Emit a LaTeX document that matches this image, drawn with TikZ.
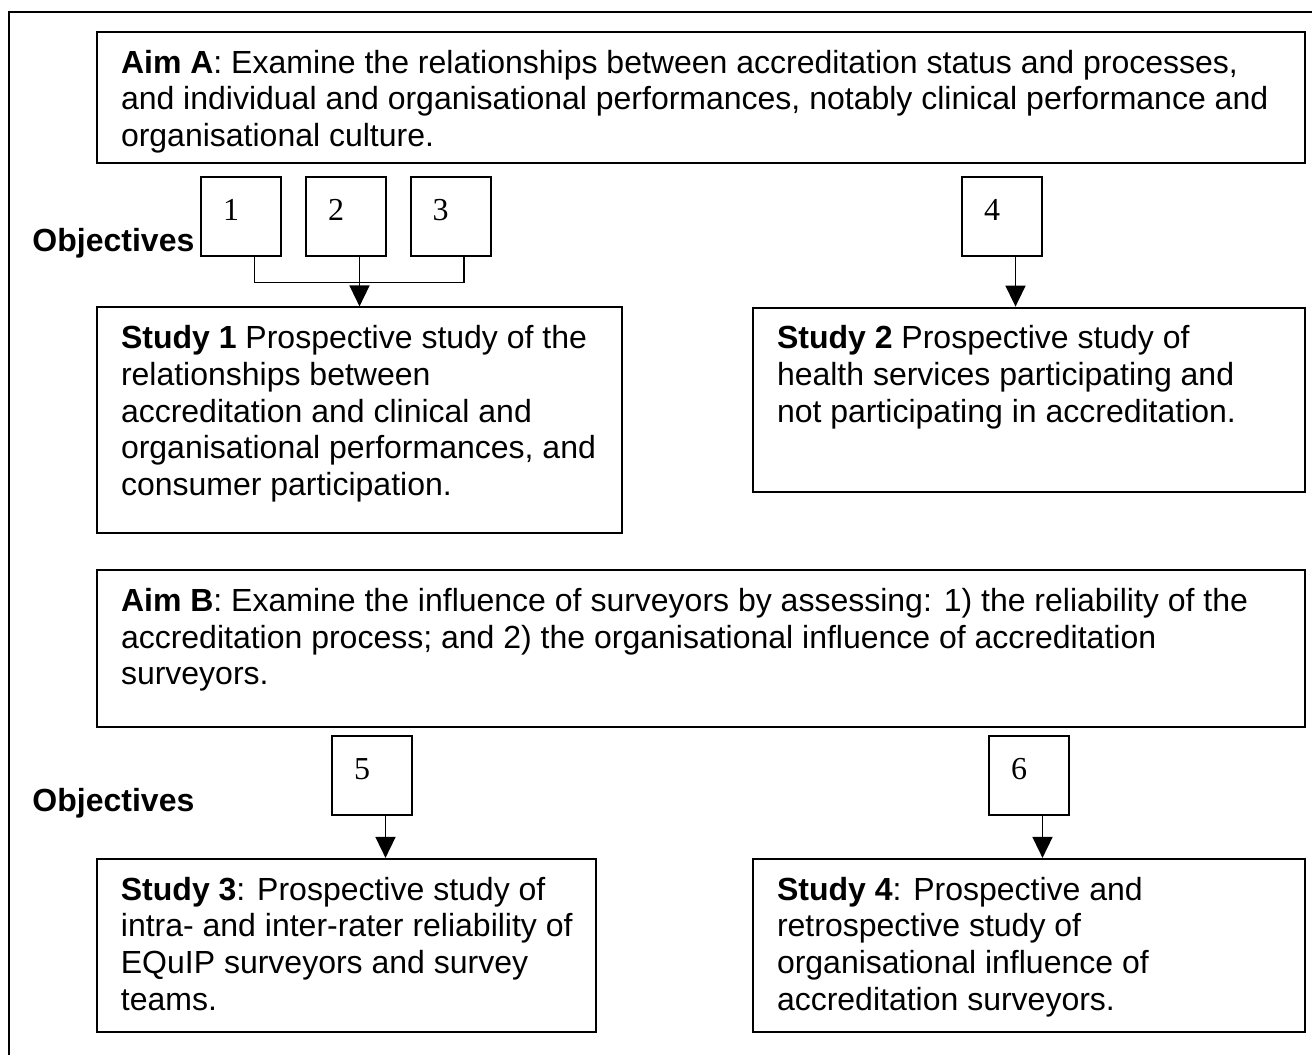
\documentclass[tikz,border=0pt]{standalone}
\usepackage{fontspec}
\setmainfont{Liberation Sans}
\newfontfamily\numfont{Liberation Serif}
\usetikzlibrary{arrows.meta}

\begin{document}
\begin{tikzpicture}
  [x=0.5pt,y=-0.5pt,line width=1pt,
   box/.style={draw,rectangle,inner sep=0pt,line width=1pt},
   obj/.style={box,minimum width=40pt,minimum height=39.5pt},
   arr/.style={line width=0.8pt,-{Triangle[length=10.5pt,width=10pt]}}]
  \tikzstyle{txt} = [anchor=north west,align=left,inner sep=0pt,font=\fontsize{16}{18.4}\selectfont]
  \tikzstyle{num} = [anchor=base west,inner sep=0pt,font=\numfont\fontsize{16}{18.4}\selectfont]
  \tikzstyle{lab} = [anchor=base west,inner sep=0pt,font=\bfseries\fontsize{16}{18.4}\selectfont]

  \useasboundingbox (0,0) rectangle (1312,1055);
  \fill[white] (0,0) rectangle (1312,1055);
  \draw (1312,12) -- (9,12) -- (9,1055);

  % aims and studies
  \node[box,minimum width=604pt,minimum height=65.5pt] (aimA) at (701,97.5) {};
  \node[box,minimum width=262.5pt,minimum height=113pt] (study1) at (359.5,420.4) {};
  \node[box,minimum width=276pt,minimum height=92pt] (study2) at (1029,399.6) {};
  \node[box,minimum width=604pt,minimum height=78.5pt] (aimB) at (701,648.7) {};
  \node[box,minimum width=249.5pt,minimum height=86.5pt] (study3) at (346.4,945.4) {};
  \node[box,minimum width=276pt,minimum height=86.5pt] (study4) at (1029,945.4) {};

  \node[txt] (aimAt) at ([xshift=12pt,yshift=-9pt]aimA.north west)
    {\textbf{Aim A}: Examine the relationships between accreditation status and processes,\\
     and individual and organisational performances, notably clinical performance and\\
     organisational culture.};
  \node[txt] (study1t) at ([xshift=12pt,yshift=-9pt]study1.north west)
    {\textbf{Study 1} Prospective study of the\\ relationships between\\
     accreditation and clinical and\\ organisational performances, and\\
     consumer participation.};
  \node[txt] (study2t) at ([xshift=12pt,yshift=-9pt]study2.north west)
    {\textbf{Study 2} Prospective study of\\ health services participating and\\
     not participating in accreditation.};
  \node[txt] (aimBt) at ([xshift=12pt,yshift=-9pt]aimB.north west)
    {\textbf{Aim B}: Examine the influence of surveyors by assessing: 1) the reliability of the\\
     accreditation process; and 2) the organisational influence of accreditation\\
     surveyors.};
  \node[txt] (study3t) at ([xshift=12pt,yshift=-9pt]study3.north west)
    {\textbf{Study 3}: Prospective study of\\ intra- and inter-rater reliability of\\
     EQuIP surveyors and survey\\ teams.};
  \node[txt] (study4t) at ([xshift=12pt,yshift=-9pt]study4.north west)
    {\textbf{Study 4}: Prospective and\\ retrospective study of\\
     organisational influence of\\ accreditation surveyors.};

  \node[lab] (objA) at (31.5,251) {Objectives};
  \node[lab] (objB) at (31.5,811) {Objectives};

  % objective boxes
  \foreach \n/\x/\y in {1/241/216.5,2/346/216.5,3/450.5/216.5,4/1002/216.5,5/372/775.5,6/1029/775.5}
  {
    \node[obj] (o\n) at (\x,\y) {};
    \node[num] (n\n) at ([xshift=11pt,yshift=-22pt]o\n.north west) {\n};
  }

  \draw[line width=0.8pt] ([xshift=6.75pt]o1.south) -- ++(0,25.5) -| ([xshift=6.75pt]o3.south);
  \foreach \src/\dst in {o2/study1,o4/study2,o5/study3,o6/study4}
    \draw[arr] ([xshift=6.75pt]\src.south) -- ([xshift=6.75pt]\src.south |- \dst.north);
\end{tikzpicture}
\end{document}
